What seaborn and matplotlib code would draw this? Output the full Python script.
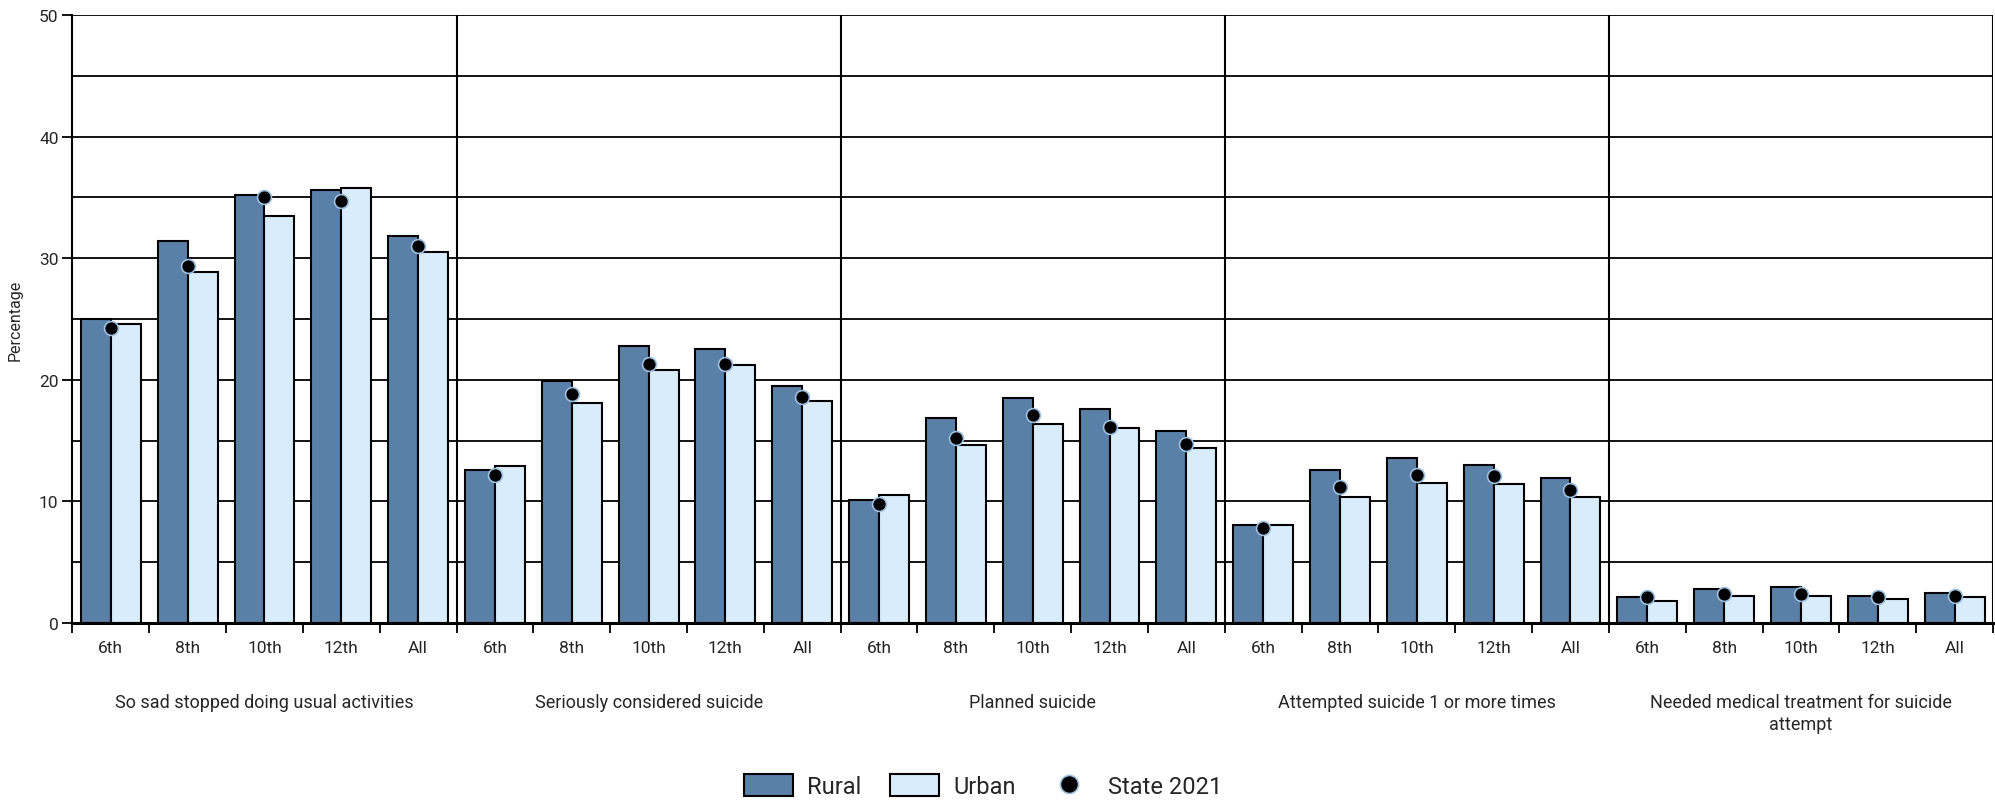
import numpy as np
import pandas as pd
import matplotlib.pyplot as plt
import seaborn as sns
from matplotlib.patches import Patch
from matplotlib.lines import Line2D

groups = ['So sad stopped doing usual activities', 'Seriously considered suicide',
          'Planned suicide', 'Attempted suicide 1 or more times',
          'Needed medical treatment for suicide\nattempt']
grades = ['6th', '8th', '10th', '12th', 'All']

rural = [25.0, 31.4, 35.2, 35.6, 31.8,
         12.6, 19.9, 22.8, 22.5, 19.5,
         10.1, 16.9, 18.5, 17.6, 15.8,
         8.1, 12.6, 13.6, 13.0, 11.9,
         2.1, 2.8, 2.95, 2.2, 2.5]
urban = [24.6, 28.9, 33.5, 35.8, 30.5,
         12.9, 18.1, 20.8, 21.2, 18.3,
         10.5, 14.6, 16.4, 16.0, 14.4,
         8.1, 10.4, 11.5, 11.4, 10.4,
         1.8, 2.2, 2.2, 2.0, 2.1]
state = [24.3, 29.4, 35.0, 34.7, 31.0,
         12.2, 18.8, 21.3, 21.3, 18.6,
         9.8, 15.2, 17.1, 16.1, 14.7,
         7.8, 11.2, 12.2, 12.1, 10.9,
         2.1, 2.4, 2.4, 2.1, 2.2]

rural_color = '#5b80a8'
urban_color = '#d9ecfc'

sns.set_style('white')
plt.rcParams['font.family'] = ['Roboto', 'DejaVu Sans']

cats = [f'{g}|{gr}' for g in groups for gr in grades]
df = pd.DataFrame({'cat': cats * 2,
                   'area': ['Rural'] * len(cats) + ['Urban'] * len(cats),
                   'value': rural + urban})
sdf = pd.DataFrame({'cat': cats, 'value': state})

fig, ax = plt.subplots(figsize=(19.95, 8.03), dpi=100)
fig.subplots_adjust(left=0.0363, right=0.999, bottom=0.2229, top=0.980)

sns.barplot(data=df, x='cat', y='value', hue='area', order=cats,
            palette={'Rural': rural_color, 'Urban': urban_color}, saturation=1,
            edgecolor='black', linewidth=1.5, width=0.78, ax=ax, legend=False)
sns.pointplot(data=sdf, x='cat', y='value', order=cats, color='black',
              linestyle='none', markers='o', errorbar=None, markersize=10,
              markeredgecolor='#9dbfe0', markeredgewidth=1.2, zorder=5, ax=ax)

ax.set_ylim(0, 50)
ax.set_xlim(-0.5, len(cats) - 0.5)
ax.set_yticks(range(0, 51, 10))
ax.set_yticks(np.arange(5, 50, 10), minor=True)
ax.set_axisbelow(True)
ax.grid(axis='y', which='both', color='black', lw=1.3)
for i in range(1, len(groups) + 1):
    ax.axvline(i * len(grades) - 0.5, color='black', lw=1.5, zorder=0.5)

ax.set_xticks(range(len(cats)))
ax.set_xticklabels(grades * len(groups))
ax.set_xticks(np.arange(-0.5, len(cats), 1), minor=True)
ax.tick_params(axis='x', which='major', length=0, pad=12, labelsize=12.5, bottom=True)
ax.tick_params(axis='x', which='minor', length=7, width=1.3, color='black', bottom=True)
ax.tick_params(axis='y', which='major', length=7, width=1.3, color='black', left=True, labelsize=12.5, pad=3)
ax.tick_params(axis='y', which='minor', length=0)

for s in ['top', 'right']:
    ax.spines[s].set_visible(False)
ax.spines['left'].set_color('black')
ax.spines['left'].set_linewidth(1.5)
ax.spines['bottom'].set_color('black')
ax.spines['bottom'].set_linewidth(2.2)

ax.set_xlabel('')
ax.set_ylabel('Percentage', fontsize=11.5, labelpad=12)

trans = ax.get_xaxis_transform()
for i, g in enumerate(groups):
    ax.text(i * len(grades) + 2, -0.115, g, transform=trans, ha='center', va='top',
            fontsize=13, linespacing=1.3)

handles = [Patch(facecolor=rural_color, edgecolor='black', lw=1.5, label='Rural'),
           Patch(facecolor=urban_color, edgecolor='black', lw=1.5, label='Urban'),
           Line2D([], [], marker='o', ls='none', color='black', markersize=13,
                  markeredgecolor='#9dbfe0', markeredgewidth=1.2, label='State 2021')]
fig.legend(handles=handles, loc='center', bbox_to_anchor=(983 / 1995, 16 / 803), ncol=3,
           frameon=False, fontsize=17, handlelength=2.1, handleheight=1.1,
           columnspacing=1.2, handletextpad=0.6)

plt.savefig('out.png', dpi=100)
